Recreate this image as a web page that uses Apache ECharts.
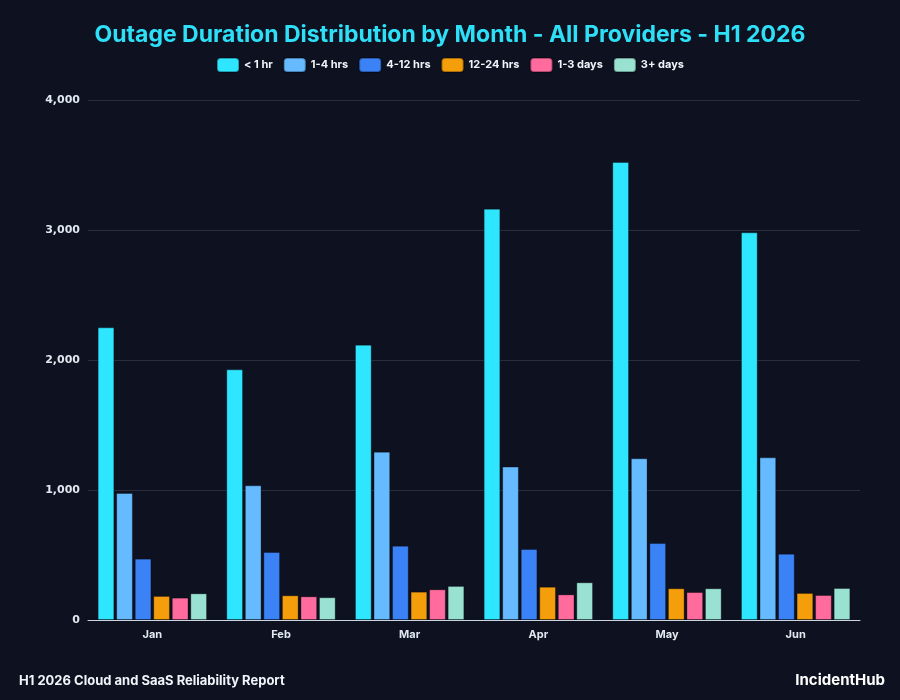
<!DOCTYPE html>
<html>
<head>
<meta charset="utf-8">
<script src="https://cdn.jsdelivr.net/npm/echarts@6/dist/echarts.min.js"></script>
<style>
  html, body { margin: 0; padding: 0; background: #0d1120; }
  #main { width: 900px; height: 700px; }
</style>
</head>
<body>
<div id="main"></div>
<script>
var months = ['Jan', 'Feb', 'Mar', 'Apr', 'May', 'Jun'];
var durations = ['< 1 hr', '1-4 hrs', '4-12 hrs', '12-24 hrs', '1-3 days', '3+ days'];
var colors = ['#2ee6ff', '#66baff', '#3b82f6', '#f59e0b', '#ff6b9d', '#99e2d2'];

var under1h = [2251, 1928, 2118, 3164, 3523, 2982];
var h1to4 = [977, 1036, 1295, 1180, 1244, 1251];
var h4to12 = [472, 523, 572, 546, 592, 510];
var h12to24 = [185, 190, 218, 256, 244, 208];
var d1to3 = [172, 182, 236, 197, 215, 192];
var d3plus = [205, 175, 262, 290, 244, 246];

var yTicks = [0, 1000, 2000, 3000, 4000];

var seriesData = [under1h, h1to4, h4to12, h12to24, d1to3, d3plus];

var chartDom = document.getElementById('main');
var myChart = echarts.init(chartDom);
var option;

option = {
  backgroundColor: '#0d1120',
  title: [
    {
      text: 'Outage Duration Distribution by Month - All Providers - H1 2026',
      left: 'center',
      top: 19,
      textStyle: { color: '#2ee0f7', fontSize: 23, fontWeight: 'bold', fontFamily: 'Inter' }
    },
    {
      text: 'H1 2026 Cloud and SaaS Reliability Report',
      left: 14,
      top: 670,
      textStyle: { color: '#f1f5f9', fontSize: 13, fontWeight: 'bold', fontFamily: 'Inter' }
    },
    {
      text: 'IncidentHub',
      right: 10,
      top: 668,
      textStyle: { color: '#ffffff', fontSize: 15, fontWeight: 'bold', fontFamily: 'Inter' }
    }
  ],
  legend: {
    data: durations,
    top: 52,
    left: 'center',
    itemWidth: 22,
    itemHeight: 14,
    itemGap: 10,
    icon: 'roundRect',
    textStyle: { color: '#f1f5f9', fontSize: 11, fontWeight: 'bold', fontFamily: 'Inter' }
  },
  grid: {
    left: 88,
    right: 40,
    top: 100,
    bottom: 80
  },
  xAxis: {
    type: 'category',
    data: months,
    axisLine: { lineStyle: { color: '#cbd5e1', width: 1 } },
    axisTick: { show: false },
    axisLabel: { color: '#e2e8f0', fontSize: 11, fontWeight: 'bold', fontFamily: 'Inter', margin: 9 }
  },
  yAxis: {
    type: 'value',
    min: yTicks[0],
    max: yTicks[yTicks.length - 1],
    interval: 1000,
    axisLine: { show: false },
    axisTick: { show: false },
    splitLine: { lineStyle: { color: 'rgba(255,255,255,0.12)' } },
    axisLabel: {
      color: '#e2e8f0', fontSize: 11, fontWeight: 'bold', fontFamily: 'DejaVu Sans', margin: 8,
      formatter: function (v) { return v.toLocaleString('en-US'); }
    }
  },
  series: durations.map(function (name, i) {
    return {
      name: name,
      type: 'bar',
      data: seriesData[i],
      barGap: '11%',
      barCategoryGap: '15%',
      itemStyle: {
        color: colors[i],
        borderColor: 'rgba(0,0,0,0.3)',
        borderWidth: 1
      }
    };
  })
};

option && myChart.setOption(option);
</script>
</body>
</html>
